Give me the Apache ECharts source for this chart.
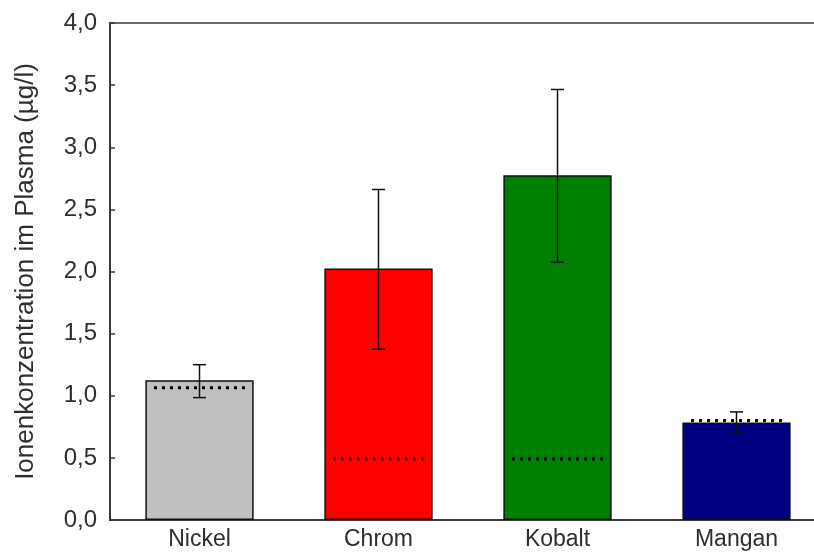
<!DOCTYPE html>
<html>
<head>
<meta charset="utf-8">
<script src="https://cdn.jsdelivr.net/npm/echarts@6/dist/echarts.min.js"></script>
<style>
html,body{margin:0;padding:0;background:#fff;}
#chart{width:814px;height:556px;}
</style>
</head>
<body>
<div id="chart"></div>
<script>
// ---- data ----
var categories = ['Nickel', 'Chrom', 'Kobalt', 'Mangan'];
var meanValues = [1.125, 2.025, 2.775, 0.785];
var errorLow   = [0.985, 1.375, 2.075, 0.700];
var errorHigh  = [1.250, 2.660, 3.465, 0.870];
var refValues  = [1.065, 0.490, 0.490, 0.800];
var yTicks = [0, 0.5, 1.0, 1.5, 2.0, 2.5, 3.0, 3.5, 4.0];

// ---- styles ----
var barColors = ['#c0c0c0', '#ff0000', '#008000', '#000080'];
var FONT = "'Liberation Sans', Arial, sans-serif";
var TEXT = '#2e2e2e';
var AXIS = '#3a3a3a';

var chart = echarts.init(document.getElementById('chart'), null, {renderer: 'canvas'});

var barData = meanValues.map(function (v, i) {
  return {value: v, itemStyle: {color: barColors[i]}};
});
var errData = categories.map(function (c, i) { return [i, errorLow[i], errorHigh[i]]; });
var refData = categories.map(function (c, i) { return [i, refValues[i]]; });

var BAR_FRAC = 0.605;

chart.setOption({
  animation: false,
  backgroundColor: '#fff',
  grid: {
    left: 110, top: 23, bottom: 36, width: 716,
    show: true, borderColor: AXIS, borderWidth: 1.5, backgroundColor: 'transparent',
    containLabel: false, outerBoundsMode: 'none'
  },
  xAxis: {
    type: 'category',
    data: categories,
    boundaryGap: true,
    axisLine: {show: true, lineStyle: {color: AXIS, width: 2}},
    axisTick: {show: true, inside: true, length: 4, alignWithLabel: true, lineStyle: {color: AXIS}},
    axisLabel: {color: TEXT, fontFamily: FONT, fontSize: 23, margin: 8},
    splitLine: {show: false}
  },
  yAxis: {
    type: 'value',
    min: yTicks[0], max: yTicks[yTicks.length - 1], interval: 0.5,
    name: 'Ionenkonzentration im Plasma (µg/l)',
    nameLocation: 'middle',
    nameGap: 71,
    nameTextStyle: {color: TEXT, fontFamily: FONT, fontSize: 26},
    axisLine: {show: true, lineStyle: {color: AXIS, width: 2}},
    axisTick: {show: true, inside: true, length: 5, lineStyle: {color: AXIS, width: 1.5}},
    axisLabel: {
      color: TEXT, fontFamily: FONT, fontSize: 24, margin: 13,
      formatter: function (v) { return v.toFixed(1).replace('.', ','); }
    },
    splitLine: {show: false}
  },
  series: [
    {
      type: 'bar',
      data: barData,
      barWidth: (BAR_FRAC * 100) + '%',
      itemStyle: {borderColor: '#111', borderWidth: 1.5},
      z: 2
    },
    {
      type: 'custom',
      data: refData,
      z: 3,
      renderItem: function (params, api) {
        var p = api.coord([api.value(0), api.value(1)]);
        var band = api.size([1, 0])[0];
        var half = band * BAR_FRAC * 0.42;
        return {
          type: 'line',
          shape: {x1: p[0] - half, y1: p[1], x2: p[0] + half, y2: p[1]},
          style: {stroke: '#000', lineWidth: 3, lineDash: [3, 5], lineCap: 'butt'}
        };
      }
    },
    {
      type: 'custom',
      data: errData,
      z: 4,
      renderItem: function (params, api) {
        var lo = api.coord([api.value(0), api.value(1)]);
        var hi = api.coord([api.value(0), api.value(2)]);
        var cap = 6.5;
        var st = {stroke: '#111', lineWidth: 1.5};
        return {
          type: 'group',
          children: [
            {type: 'line', shape: {x1: hi[0], y1: hi[1], x2: lo[0], y2: lo[1]}, style: st},
            {type: 'line', shape: {x1: hi[0] - cap, y1: hi[1], x2: hi[0] + cap, y2: hi[1]}, style: st},
            {type: 'line', shape: {x1: lo[0] - cap, y1: lo[1], x2: lo[0] + cap, y2: lo[1]}, style: st}
          ]
        };
      }
    }
  ]
});
</script>
</body>
</html>
